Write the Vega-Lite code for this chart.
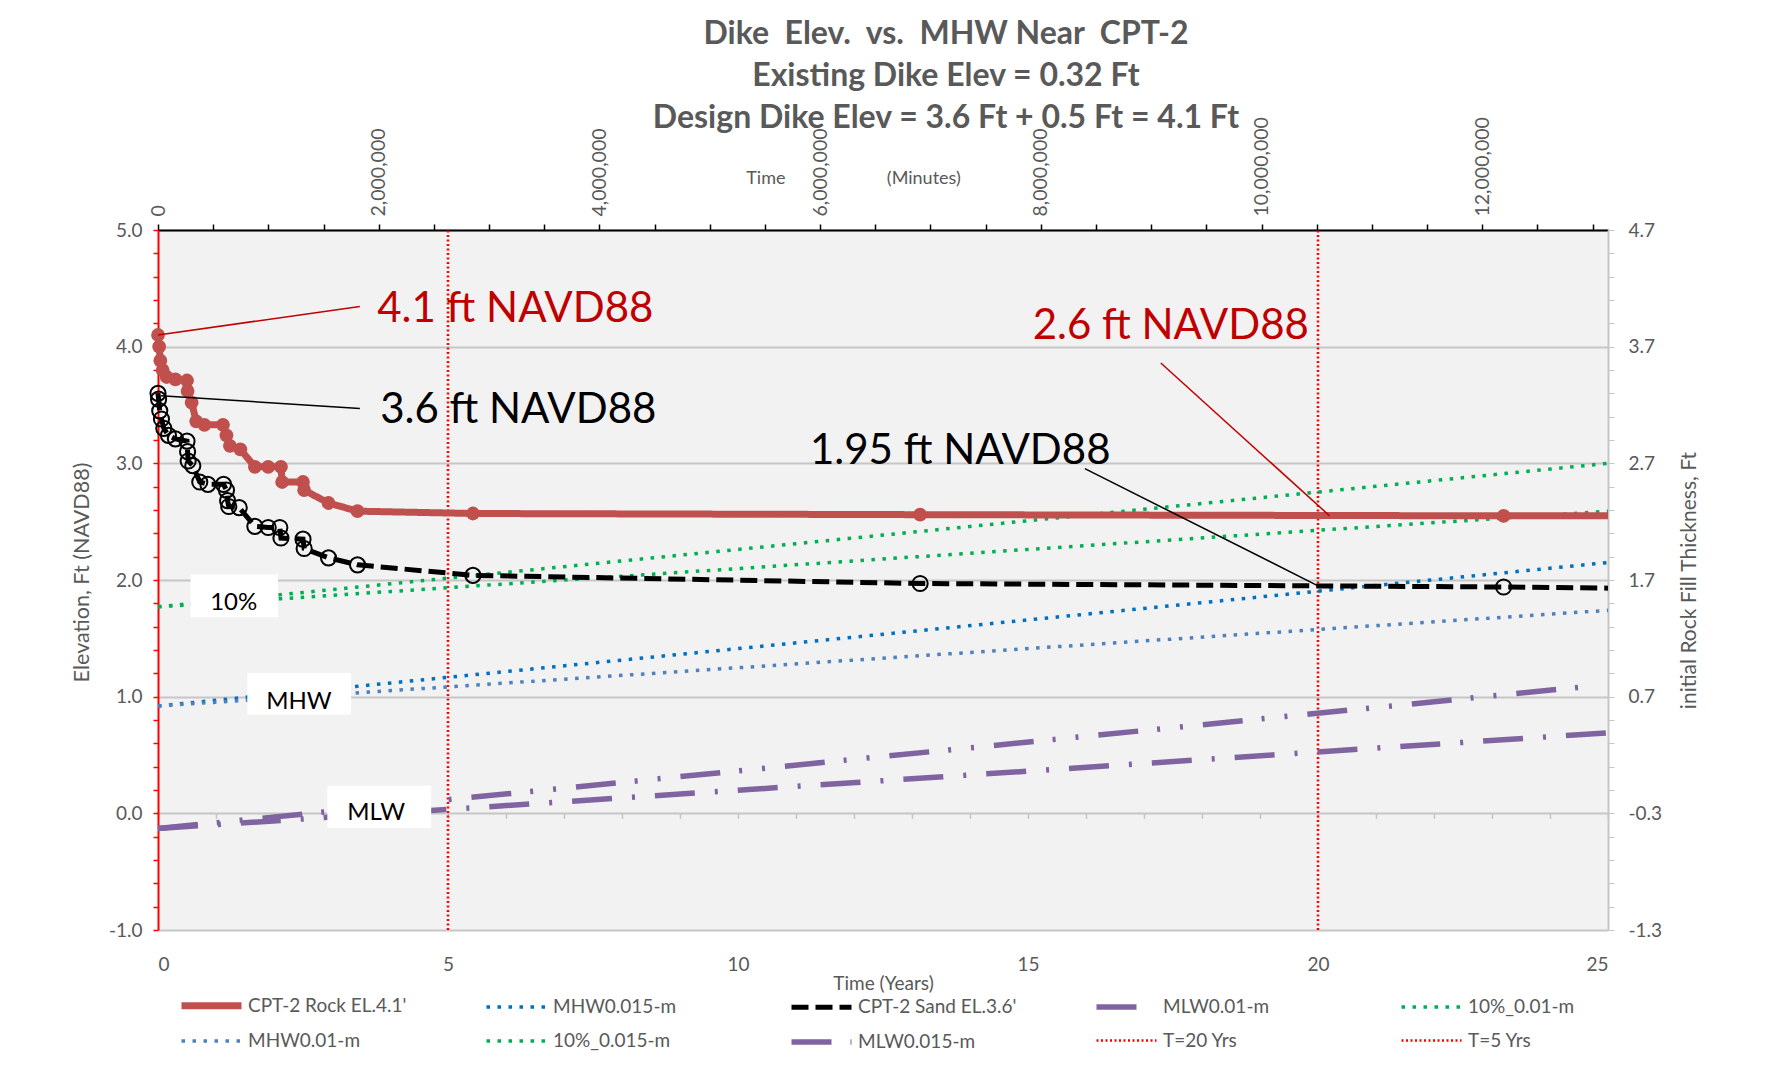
{
  "$schema": "https://vega.github.io/schema/vega-lite/v6.json",
  "width": 1450,
  "height": 700,
  "autosize": {"type": "none"},
  "padding": {"left": 158, "top": 230, "right": 157, "bottom": 142},
  "background": "#ffffff",
  "config": {
    "font": "Lato",
    "view": {"fill": "#f2f2f2", "stroke": null},
    "axis": {
      "labelFont": "Lato",
      "titleFont": "Lato",
      "labelColor": "#595959",
      "titleColor": "#595959",
      "titleFontWeight": "normal",
      "labelFontSize": 19,
      "titleFontSize": 19
    }
  },
  "title": {
    "text": [
      "Dike\u00a0 Elev.\u00a0 vs.\u00a0 MHW Near\u00a0 CPT-2",
      "Existing Dike Elev = 0.32 Ft",
      "Design Dike Elev = 3.6 Ft + 0.5 Ft = 4.1 Ft"
    ],
    "font": "Lato",
    "fontSize": 32,
    "fontWeight": "bold",
    "color": "#595959",
    "lineHeight": 42,
    "anchor": "middle",
    "dx": 63,
    "dy": 18,
    "offset": 0
  },
  "datasets": {
    "slr": [
      {"series": "MHW0.015-m", "yr": 0, "elev": 0.92},
      {"series": "MHW0.015-m", "yr": 25, "elev": 2.15},
      {"series": "MHW0.01-m", "yr": 0, "elev": 0.92},
      {"series": "MHW0.01-m", "yr": 25, "elev": 1.74},
      {"series": "10%_0.015-m", "yr": 0, "elev": 1.77},
      {"series": "10%_0.015-m", "yr": 25, "elev": 3.0},
      {"series": "10%_0.01-m", "yr": 0, "elev": 1.77},
      {"series": "10%_0.01-m", "yr": 25, "elev": 2.59},
      {"series": "MLW0.015-m", "yr": 0, "elev": -0.13},
      {"series": "MLW0.015-m", "yr": 24.7, "elev": 1.09},
      {"series": "MLW0.01-m", "yr": 0, "elev": -0.13},
      {"series": "MLW0.01-m", "yr": 25, "elev": 0.69}
    ],
    "cpt": [
      {"series": "CPT-2 Rock EL.4.1'", "yr": 0, "elev": 4.1},
      {"series": "CPT-2 Rock EL.4.1'", "yr": 0.02, "elev": 4.0},
      {"series": "CPT-2 Rock EL.4.1'", "yr": 0.04, "elev": 3.88},
      {"series": "CPT-2 Rock EL.4.1'", "yr": 0.08, "elev": 3.8},
      {"series": "CPT-2 Rock EL.4.1'", "yr": 0.15, "elev": 3.74},
      {"series": "CPT-2 Rock EL.4.1'", "yr": 0.3, "elev": 3.72},
      {"series": "CPT-2 Rock EL.4.1'", "yr": 0.5, "elev": 3.71},
      {"series": "CPT-2 Rock EL.4.1'", "yr": 0.51, "elev": 3.62},
      {"series": "CPT-2 Rock EL.4.1'", "yr": 0.58, "elev": 3.52},
      {"series": "CPT-2 Rock EL.4.1'", "yr": 0.66, "elev": 3.36},
      {"series": "CPT-2 Rock EL.4.1'", "yr": 0.8, "elev": 3.33},
      {"series": "CPT-2 Rock EL.4.1'", "yr": 1.12, "elev": 3.33},
      {"series": "CPT-2 Rock EL.4.1'", "yr": 1.18, "elev": 3.24},
      {"series": "CPT-2 Rock EL.4.1'", "yr": 1.24, "elev": 3.15},
      {"series": "CPT-2 Rock EL.4.1'", "yr": 1.42, "elev": 3.12},
      {"series": "CPT-2 Rock EL.4.1'", "yr": 1.67, "elev": 2.97},
      {"series": "CPT-2 Rock EL.4.1'", "yr": 1.9, "elev": 2.97},
      {"series": "CPT-2 Rock EL.4.1'", "yr": 2.12, "elev": 2.97},
      {"series": "CPT-2 Rock EL.4.1'", "yr": 2.14, "elev": 2.84},
      {"series": "CPT-2 Rock EL.4.1'", "yr": 2.5, "elev": 2.84},
      {"series": "CPT-2 Rock EL.4.1'", "yr": 2.52, "elev": 2.77},
      {"series": "CPT-2 Rock EL.4.1'", "yr": 2.94, "elev": 2.66},
      {"series": "CPT-2 Rock EL.4.1'", "yr": 3.44, "elev": 2.59},
      {"series": "CPT-2 Rock EL.4.1'", "yr": 5.43, "elev": 2.57},
      {"series": "CPT-2 Rock EL.4.1'", "yr": 13.14, "elev": 2.56},
      {"series": "CPT-2 Rock EL.4.1'", "yr": 23.2, "elev": 2.55},
      {"series": "CPT-2 Rock EL.4.1'", "yr": 25, "elev": 2.55},
      {"series": "CPT-2 Sand EL.3.6'", "yr": 0, "elev": 3.6},
      {"series": "CPT-2 Sand EL.3.6'", "yr": 0.01, "elev": 3.55},
      {"series": "CPT-2 Sand EL.3.6'", "yr": 0.03, "elev": 3.45},
      {"series": "CPT-2 Sand EL.3.6'", "yr": 0.06, "elev": 3.38},
      {"series": "CPT-2 Sand EL.3.6'", "yr": 0.1, "elev": 3.3},
      {"series": "CPT-2 Sand EL.3.6'", "yr": 0.18, "elev": 3.24},
      {"series": "CPT-2 Sand EL.3.6'", "yr": 0.3, "elev": 3.21},
      {"series": "CPT-2 Sand EL.3.6'", "yr": 0.5, "elev": 3.19},
      {"series": "CPT-2 Sand EL.3.6'", "yr": 0.51, "elev": 3.1},
      {"series": "CPT-2 Sand EL.3.6'", "yr": 0.52, "elev": 3.02},
      {"series": "CPT-2 Sand EL.3.6'", "yr": 0.6, "elev": 2.98},
      {"series": "CPT-2 Sand EL.3.6'", "yr": 0.72, "elev": 2.84},
      {"series": "CPT-2 Sand EL.3.6'", "yr": 0.86, "elev": 2.82},
      {"series": "CPT-2 Sand EL.3.6'", "yr": 1.13, "elev": 2.82},
      {"series": "CPT-2 Sand EL.3.6'", "yr": 1.18, "elev": 2.77},
      {"series": "CPT-2 Sand EL.3.6'", "yr": 1.2, "elev": 2.68},
      {"series": "CPT-2 Sand EL.3.6'", "yr": 1.22, "elev": 2.63},
      {"series": "CPT-2 Sand EL.3.6'", "yr": 1.4, "elev": 2.62},
      {"series": "CPT-2 Sand EL.3.6'", "yr": 1.67, "elev": 2.46},
      {"series": "CPT-2 Sand EL.3.6'", "yr": 1.9, "elev": 2.45},
      {"series": "CPT-2 Sand EL.3.6'", "yr": 2.1, "elev": 2.45},
      {"series": "CPT-2 Sand EL.3.6'", "yr": 2.12, "elev": 2.36},
      {"series": "CPT-2 Sand EL.3.6'", "yr": 2.5, "elev": 2.35},
      {"series": "CPT-2 Sand EL.3.6'", "yr": 2.52, "elev": 2.27},
      {"series": "CPT-2 Sand EL.3.6'", "yr": 2.94, "elev": 2.19},
      {"series": "CPT-2 Sand EL.3.6'", "yr": 3.44, "elev": 2.13},
      {"series": "CPT-2 Sand EL.3.6'", "yr": 5.43, "elev": 2.04},
      {"series": "CPT-2 Sand EL.3.6'", "yr": 13.14, "elev": 1.97},
      {"series": "CPT-2 Sand EL.3.6'", "yr": 23.2, "elev": 1.94},
      {"series": "CPT-2 Sand EL.3.6'", "yr": 25, "elev": 1.93}
    ],
    "tmarks": [
      {"series": "T=20 Yrs", "min": 10512000, "lo": -1, "hi": 5},
      {"series": "T=5 Yrs", "min": 2628000, "lo": -1, "hi": 5}
    ],
    "boxes": [
      {"box": "10%", "x0": 0.56, "x1": 2.07, "y0": 1.68, "y1": 2.048, "tx": 1.305, "ty": 1.74},
      {"box": "MHW", "x0": 1.54, "x1": 3.33, "y0": 0.848, "y1": 1.202, "tx": 2.43, "ty": 0.897},
      {"box": "MLW", "x0": 2.92, "x1": 4.71, "y0": -0.126, "y1": 0.237, "tx": 3.76, "ty": -0.06}
    ],
    "notes": [
      {"note": "4.1 ft NAVD88", "tone": "rock", "tx": 3.78, "ty": 4.21, "ax": 0.0, "ay": 4.1, "bx": 3.48, "by": 4.345},
      {"note": "3.6 ft NAVD88", "tone": "sand", "tx": 3.83, "ty": 3.342, "ax": 0.05, "ay": 3.58, "bx": 3.48, "by": 3.47},
      {"note": "2.6 ft NAVD88", "tone": "rock", "tx": 15.08, "ty": 4.068, "ax": 17.29, "ay": 3.86, "bx": 20.2, "by": 2.55},
      {"note": "1.95 ft NAVD88", "tone": "sand", "tx": 11.24, "ty": 2.997, "ax": 15.98, "ay": 2.955, "bx": 20.0, "by": 1.95}
    ]
  },
  "resolve": {
    "scale": {"x": "independent"},
    "axis": {"x": "independent", "y": "independent"}
  },
  "layer": [
    {
      "data": {"name": "tmarks"},
      "mark": {"type": "rule"},
      "encoding": {
        "x": {
          "field": "min",
          "type": "quantitative",
          "scale": {"domain": [0, 13140000], "nice": false, "zero": false},
          "axis": {
            "orient": "top",
            "values": [0, 500000, 1000000, 1500000, 2000000, 2500000, 3000000, 3500000, 4000000, 4500000, 5000000, 5500000, 6000000, 6500000, 7000000, 7500000, 8000000, 8500000, 9000000, 9500000, 10000000, 10500000, 11000000, 11500000, 12000000, 12500000, 13000000],
            "labelExpr": "datum.value % 2000000 === 0 ? format(datum.value, ',') : ''",
            "labelAngle": 270,
            "labelFontSize": 19.5,
            "labelPadding": 8,
            "tickSize": 6,
            "tickWidth": 1.5,
            "tickColor": "#000000",
            "domainColor": "#000000",
            "domainWidth": 2,
            "grid": false,
            "title": "Time\u00a0\u00a0\u00a0\u00a0\u00a0\u00a0\u00a0\u00a0\u00a0\u00a0\u00a0\u00a0\u00a0\u00a0\u00a0\u00a0\u00a0\u00a0\u00a0\u00a0\u00a0\u00a0(Minutes)",
            "titleFontSize": 18,
            "titleX": 695,
            "titleY": -52,
            "titleAlign": "center",
            "titleBaseline": "middle",
            "titleAngle": 0
          }
        },
        "y": {
          "field": "lo",
          "type": "quantitative",
          "scale": {"domain": [-1, 5], "nice": false, "zero": false},
          "axis": {
            "orient": "right",
            "values": [-1, -0.8, -0.6, -0.4, -0.2, 0, 0.2, 0.4, 0.6, 0.8, 1, 1.2, 1.4, 1.6, 1.8, 2, 2.2, 2.4, 2.6, 2.8, 3, 3.2, 3.4, 3.6, 3.8, 4, 4.2, 4.4, 4.6, 4.8, 5],
            "labelExpr": "abs(datum.value - round(datum.value)) < 0.01 ? (datum.value - 0.3 < 0 ? '-' : '') + format(abs(datum.value - 0.3), '.1f') : ''",
            "labelPadding": 14,
            "tickSize": 6,
            "tickColor": "#c6c6c6",
            "domainColor": "#c6c6c6",
            "domainWidth": 2,
            "grid": false,
            "title": "initial Rock Fill Thickness, Ft",
            "titleFontSize": 21,
            "titleAngle": 270,
            "titleX": 81,
            "titleY": 350,
            "titleAlign": "center",
            "titleBaseline": "middle"
          }
        },
        "y2": {"field": "hi"},
        "color": {
          "field": "series", "type": "nominal", "title": null,
          "scale": {
            "domain": ["CPT-2 Rock EL.4.1'", "MHW0.015-m", "CPT-2 Sand EL.3.6'", "MLW0.01-m", "10%_0.01-m", "MHW0.01-m", "10%_0.015-m", "MLW0.015-m", "T=20 Yrs", "T=5 Yrs"],
            "range": ["#c0504d", "#0070c0", "#000000", "#8064a2", "#00b050", "#4f81bd", "#00b050", "#8064a2", "#ff0000", "#ff0000"]
          },
          "legend": {"orient": "none", "legendX": 40, "legendY": 762, "direction": "horizontal", "columns": 5, "gridAlign": "all", "columnPadding": 68, "rowPadding": 9, "padding": 0, "symbolType": "M-3,0L3,0", "symbolSize": 400, "labelFont": "Lato", "labelFontSize": 19, "labelColor": "#595959", "labelOffset": 23, "labelLimit": 300}
        },
        "strokeDash": {
          "field": "series", "type": "nominal", "title": null,
          "scale": {
            "domain": ["CPT-2 Rock EL.4.1'", "MHW0.015-m", "CPT-2 Sand EL.3.6'", "MLW0.01-m", "10%_0.01-m", "MHW0.01-m", "10%_0.015-m", "MLW0.015-m", "T=20 Yrs", "T=5 Yrs"],
            "range": [[1, 0], [3.5, 7.5], [17, 7], [40, 20, 3, 20], [3.5, 7.5], [3.5, 7.5], [3.5, 7.5], [40, 19, 3, 20, 3, 20], [2, 2.5], [2, 2.5]]
          },
          "legend": {"orient": "none", "legendX": 40, "legendY": 762, "direction": "horizontal", "columns": 5, "gridAlign": "all", "columnPadding": 68, "rowPadding": 9, "padding": 0, "symbolType": "M-3,0L3,0", "symbolSize": 400, "labelFont": "Lato", "labelFontSize": 19, "labelColor": "#595959", "labelOffset": 23, "labelLimit": 300}
        },
        "strokeWidth": {
          "field": "series", "type": "nominal", "title": null,
          "scale": {
            "type": "ordinal",
            "domain": ["CPT-2 Rock EL.4.1'", "MHW0.015-m", "CPT-2 Sand EL.3.6'", "MLW0.01-m", "10%_0.01-m", "MHW0.01-m", "10%_0.015-m", "MLW0.015-m", "T=20 Yrs", "T=5 Yrs"],
            "range": [7, 3.5, 5, 5.5, 3.5, 3.5, 3.5, 5.5, 2.5, 2.5]
          },
          "legend": {"orient": "none", "legendX": 40, "legendY": 762, "direction": "horizontal", "columns": 5, "gridAlign": "all", "columnPadding": 68, "rowPadding": 9, "padding": 0, "symbolType": "M-3,0L3,0", "symbolSize": 400, "labelFont": "Lato", "labelFontSize": 19, "labelColor": "#595959", "labelOffset": 23, "labelLimit": 300}
        }
      }
    },
    {
      "resolve": {"axis": {"x": "independent", "y": "independent"}},
      "layer": [
        {
          "data": {"name": "boxes"},
          "mark": {"type": "rect", "fill": "#ffffff", "stroke": null, "opacity": 0},
          "encoding": {
            "x": {
              "field": "x0", "type": "quantitative",
              "scale": {"domain": [0, 25], "nice": false, "zero": false},
              "axis": {
                "orient": "bottom",
                "offset": -116.67,
                "values": [0, 1, 2, 3, 4, 5, 6, 7, 8, 9, 10, 11, 12, 13, 14, 15, 16, 17, 18, 19, 20, 21, 22, 23, 24, 25],
                "labels": false,
                "domain": false,
                "grid": false,
                "ticks": true,
                "tickSize": 5,
                "tickColor": "#c6c6c6",
                "tickWidth": 1.5,
                "title": null
              }
            },
            "x2": {"field": "x1"},
            "y": {
              "field": "y0", "type": "quantitative",
              "scale": {"domain": [-1, 5], "nice": false, "zero": false},
              "axis": {
                "orient": "left",
                "values": [-1, 0, 1, 2, 3, 4, 5],
                "labels": false,
                "ticks": false,
                "domain": false,
                "grid": true,
                "gridColor": "#c6c6c6",
                "gridWidth": 2,
                "title": null
              }
            },
            "y2": {"field": "y1"}
          }
        },
        {
          "data": {"name": "slr"},
          "mark": {"type": "line"},
          "encoding": {
            "x": {
              "field": "yr", "type": "quantitative",
              "scale": {"domain": [0, 25], "nice": false, "zero": false},
              "axis": {
                "orient": "bottom",
                "values": [0, 5, 10, 15, 20, 25],
                "ticks": false,
                "domain": false,
                "grid": false,
                "labelPadding": 25,
                "title": "Time (Years)",
                "titleX": 725,
                "titleY": 53,
                "titleAlign": "center",
                "titleBaseline": "middle"
              }
            },
            "y": {
              "field": "elev", "type": "quantitative",
              "scale": {"domain": [-1, 5], "nice": false, "zero": false},
              "axis": {
                "orient": "left",
                "values": [-1, -0.8, -0.6, -0.4, -0.2, 0, 0.2, 0.4, 0.6, 0.8, 1, 1.2, 1.4, 1.6, 1.8, 2, 2.2, 2.4, 2.6, 2.8, 3, 3.2, 3.4, 3.6, 3.8, 4, 4.2, 4.4, 4.6, 4.8, 5],
                "labelExpr": "abs(datum.value - round(datum.value)) < 0.01 ? (datum.value < 0 ? '-' : '') + format(abs(datum.value), '.1f') : ''",
                "labelPadding": 11,
                "tickSize": 5,
                "tickColor": "#ff0000",
                "tickWidth": 1.5,
                "domainColor": "#ff0000",
                "domainWidth": 2,
                "grid": false,
                "title": "Elevation, Ft (NAVD88)",
                "titleFontSize": 21.5,
                "titleX": -76,
                "titleY": 342,
                "titleAlign": "center",
                "titleBaseline": "middle"
              }
            },
            "color": {
              "field": "series", "type": "nominal", "title": null,
              "scale": {
                "domain": ["CPT-2 Rock EL.4.1'", "MHW0.015-m", "CPT-2 Sand EL.3.6'", "MLW0.01-m", "10%_0.01-m", "MHW0.01-m", "10%_0.015-m", "MLW0.015-m", "T=20 Yrs", "T=5 Yrs"],
                "range": ["#c0504d", "#0070c0", "#000000", "#8064a2", "#00b050", "#4f81bd", "#00b050", "#8064a2", "#ff0000", "#ff0000"]
              },
              "legend": {"orient": "none", "legendX": 40, "legendY": 762, "direction": "horizontal", "columns": 5, "gridAlign": "all", "columnPadding": 68, "rowPadding": 9, "padding": 0, "symbolType": "M-3,0L3,0", "symbolSize": 400, "labelFont": "Lato", "labelFontSize": 19, "labelColor": "#595959", "labelOffset": 23, "labelLimit": 300}
            },
            "strokeDash": {
              "field": "series", "type": "nominal", "title": null,
              "scale": {
                "domain": ["CPT-2 Rock EL.4.1'", "MHW0.015-m", "CPT-2 Sand EL.3.6'", "MLW0.01-m", "10%_0.01-m", "MHW0.01-m", "10%_0.015-m", "MLW0.015-m", "T=20 Yrs", "T=5 Yrs"],
                "range": [[1, 0], [3.5, 7.5], [17, 7], [40, 20, 3, 20], [3.5, 7.5], [3.5, 7.5], [3.5, 7.5], [40, 19, 3, 20, 3, 20], [2, 2.5], [2, 2.5]]
              },
              "legend": {"orient": "none", "legendX": 40, "legendY": 762, "direction": "horizontal", "columns": 5, "gridAlign": "all", "columnPadding": 68, "rowPadding": 9, "padding": 0, "symbolType": "M-3,0L3,0", "symbolSize": 400, "labelFont": "Lato", "labelFontSize": 19, "labelColor": "#595959", "labelOffset": 23, "labelLimit": 300}
            },
            "strokeWidth": {
              "field": "series", "type": "nominal", "title": null,
              "scale": {
                "type": "ordinal",
                "domain": ["CPT-2 Rock EL.4.1'", "MHW0.015-m", "CPT-2 Sand EL.3.6'", "MLW0.01-m", "10%_0.01-m", "MHW0.01-m", "10%_0.015-m", "MLW0.015-m", "T=20 Yrs", "T=5 Yrs"],
                "range": [7, 3.5, 5, 5.5, 3.5, 3.5, 3.5, 5.5, 2.5, 2.5]
              },
              "legend": {"orient": "none", "legendX": 40, "legendY": 762, "direction": "horizontal", "columns": 5, "gridAlign": "all", "columnPadding": 68, "rowPadding": 9, "padding": 0, "symbolType": "M-3,0L3,0", "symbolSize": 400, "labelFont": "Lato", "labelFontSize": 19, "labelColor": "#595959", "labelOffset": 23, "labelLimit": 300}
            }
          }
        },
        {
          "data": {"name": "boxes"},
          "mark": {"type": "rect", "fill": "#ffffff", "stroke": null},
          "encoding": {
            "x": {"field": "x0", "type": "quantitative", "scale": {"domain": [0, 25], "nice": false, "zero": false}, "axis": null},
            "x2": {"field": "x1"},
            "y": {"field": "y0", "type": "quantitative", "scale": {"domain": [-1, 5], "nice": false, "zero": false}, "axis": null},
            "y2": {"field": "y1"}
          }
        },
        {
          "data": {"name": "boxes"},
          "mark": {"type": "text", "font": "Lato", "fontSize": 24, "align": "center", "baseline": "alphabetic", "color": "#000000"},
          "encoding": {
            "x": {"field": "tx", "type": "quantitative", "scale": {"domain": [0, 25], "nice": false, "zero": false}, "axis": null},
            "y": {"field": "ty", "type": "quantitative", "scale": {"domain": [-1, 5], "nice": false, "zero": false}, "axis": null},
            "text": {"field": "box"}
          }
        },
        {
          "data": {"name": "cpt"},
          "mark": {"type": "line"},
          "encoding": {
            "x": {"field": "yr", "type": "quantitative", "scale": {"domain": [0, 25], "nice": false, "zero": false}, "axis": null},
            "y": {"field": "elev", "type": "quantitative", "scale": {"domain": [-1, 5], "nice": false, "zero": false}, "axis": null},
            "color": {
              "field": "series", "type": "nominal", "title": null,
              "scale": {
                "domain": ["CPT-2 Rock EL.4.1'", "MHW0.015-m", "CPT-2 Sand EL.3.6'", "MLW0.01-m", "10%_0.01-m", "MHW0.01-m", "10%_0.015-m", "MLW0.015-m", "T=20 Yrs", "T=5 Yrs"],
                "range": ["#c0504d", "#0070c0", "#000000", "#8064a2", "#00b050", "#4f81bd", "#00b050", "#8064a2", "#ff0000", "#ff0000"]
              },
              "legend": {"orient": "none", "legendX": 40, "legendY": 762, "direction": "horizontal", "columns": 5, "gridAlign": "all", "columnPadding": 68, "rowPadding": 9, "padding": 0, "symbolType": "M-3,0L3,0", "symbolSize": 400, "labelFont": "Lato", "labelFontSize": 19, "labelColor": "#595959", "labelOffset": 23, "labelLimit": 300}
            },
            "strokeDash": {
              "field": "series", "type": "nominal", "title": null,
              "scale": {
                "domain": ["CPT-2 Rock EL.4.1'", "MHW0.015-m", "CPT-2 Sand EL.3.6'", "MLW0.01-m", "10%_0.01-m", "MHW0.01-m", "10%_0.015-m", "MLW0.015-m", "T=20 Yrs", "T=5 Yrs"],
                "range": [[1, 0], [3.5, 7.5], [17, 7], [40, 20, 3, 20], [3.5, 7.5], [3.5, 7.5], [3.5, 7.5], [40, 19, 3, 20, 3, 20], [2, 2.5], [2, 2.5]]
              },
              "legend": {"orient": "none", "legendX": 40, "legendY": 762, "direction": "horizontal", "columns": 5, "gridAlign": "all", "columnPadding": 68, "rowPadding": 9, "padding": 0, "symbolType": "M-3,0L3,0", "symbolSize": 400, "labelFont": "Lato", "labelFontSize": 19, "labelColor": "#595959", "labelOffset": 23, "labelLimit": 300}
            },
            "strokeWidth": {
              "field": "series", "type": "nominal", "title": null,
              "scale": {
                "type": "ordinal",
                "domain": ["CPT-2 Rock EL.4.1'", "MHW0.015-m", "CPT-2 Sand EL.3.6'", "MLW0.01-m", "10%_0.01-m", "MHW0.01-m", "10%_0.015-m", "MLW0.015-m", "T=20 Yrs", "T=5 Yrs"],
                "range": [7, 3.5, 5, 5.5, 3.5, 3.5, 3.5, 5.5, 2.5, 2.5]
              },
              "legend": {"orient": "none", "legendX": 40, "legendY": 762, "direction": "horizontal", "columns": 5, "gridAlign": "all", "columnPadding": 68, "rowPadding": 9, "padding": 0, "symbolType": "M-3,0L3,0", "symbolSize": 400, "labelFont": "Lato", "labelFontSize": 19, "labelColor": "#595959", "labelOffset": 23, "labelLimit": 300}
            }
          }
        },
        {
          "data": {"name": "cpt"},
          "transform": [{"filter": "datum.series === \"CPT-2 Rock EL.4.1'\" && datum.yr < 25"}],
          "mark": {"type": "point", "shape": "circle", "filled": true, "size": 190, "color": "#c0504d", "opacity": 1},
          "encoding": {
            "x": {"field": "yr", "type": "quantitative", "scale": {"domain": [0, 25], "nice": false, "zero": false}, "axis": null},
            "y": {"field": "elev", "type": "quantitative", "scale": {"domain": [-1, 5], "nice": false, "zero": false}, "axis": null}
          }
        },
        {
          "data": {"name": "cpt"},
          "transform": [{"filter": "datum.series === \"CPT-2 Sand EL.3.6'\" && datum.yr < 25"}],
          "mark": {"type": "point", "shape": "circle", "filled": false, "size": 230, "stroke": "#000000", "strokeWidth": 2, "opacity": 1},
          "encoding": {
            "x": {"field": "yr", "type": "quantitative", "scale": {"domain": [0, 25], "nice": false, "zero": false}, "axis": null},
            "y": {"field": "elev", "type": "quantitative", "scale": {"domain": [-1, 5], "nice": false, "zero": false}, "axis": null}
          }
        },
        {
          "data": {"name": "notes"},
          "mark": {"type": "rule", "strokeWidth": 1.5},
          "encoding": {
            "x": {"field": "ax", "type": "quantitative", "scale": {"domain": [0, 25], "nice": false, "zero": false}, "axis": null},
            "y": {"field": "ay", "type": "quantitative", "scale": {"domain": [-1, 5], "nice": false, "zero": false}, "axis": null},
            "x2": {"field": "bx"},
            "y2": {"field": "by"},
            "color": {"condition": {"test": "datum.tone === 'rock'", "value": "#c00000"}, "value": "#000000"}
          }
        },
        {
          "data": {"name": "notes"},
          "mark": {"type": "text", "font": "Lato", "fontSize": 42, "align": "left", "baseline": "alphabetic"},
          "encoding": {
            "x": {"field": "tx", "type": "quantitative", "scale": {"domain": [0, 25], "nice": false, "zero": false}, "axis": null},
            "y": {"field": "ty", "type": "quantitative", "scale": {"domain": [-1, 5], "nice": false, "zero": false}, "axis": null},
            "text": {"field": "note"},
            "color": {"condition": {"test": "datum.tone === 'rock'", "value": "#c00000"}, "value": "#000000"}
          }
        }
      ]
    }
  ]
}
